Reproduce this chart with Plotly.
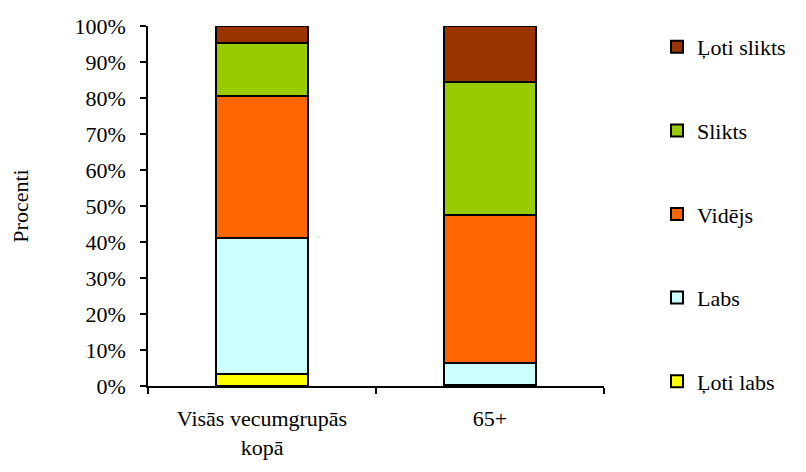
import plotly.graph_objects as go

categories = ["Visās vecumgrupās<br>kopā", "65+"]
series_names = ["Ļoti labs", "Labs", "Vidējs", "Slikts", "Ļoti slikts"]
values_loti_labs = [3.2, 0.4]
values_labs = [38.0, 5.9]
values_videjs = [39.4, 41.2]
values_slikts = [14.8, 37.0]
values_loti_slikts = [4.6, 15.5]
colors = ["#FFFF00", "#CCFFFF", "#FF6600", "#99CC00", "#993300"]
y_ticks = [0, 10, 20, 30, 40, 50, 60, 70, 80, 90, 100]

series_values = [values_loti_labs, values_labs, values_videjs, values_slikts, values_loti_slikts]

font_family = "Liberation Serif"
font_size = 22

fig = go.Figure()
n = len(series_names)
for i, (name, vals, col) in enumerate(zip(series_names, series_values, colors)):
    fig.add_trace(go.Bar(
        x=categories, y=vals, name=name, legendgroup=name,
        legendrank=n - i,
        marker=dict(color=col, line=dict(color="black", width=2)),
        width=0.4,
    ))

fig.update_layout(
    barmode="stack",
    width=806, height=472,
    margin=dict(l=148, r=202, t=26, b=86),
    plot_bgcolor="white", paper_bgcolor="white",
    font=dict(family=font_family, size=font_size, color="black"),
    showlegend=True,
    legend=dict(
        tracegroupgap=52,
        maxheight=1,
        xref="container", yref="container",
        x=657 / 806, y=1 - 26 / 472, xanchor="left", yanchor="top",
        itemwidth=30,
        font=dict(family=font_family, size=font_size, color="black"),
        bgcolor="rgba(0,0,0,0)",
    ),
    xaxis=dict(
        showline=True, linecolor="black", linewidth=1.5,
        ticks="outside", tickson="boundaries", ticklen=6,
        tickwidth=1.5, tickcolor="black", showgrid=False,
        ticklabelstandoff=12,
        tickfont=dict(family=font_family, size=font_size),
    ),
    yaxis=dict(
        range=[0, 100], tickvals=y_ticks,
        ticktext=[f"{t}%" for t in y_ticks],
        showline=True, linecolor="black", linewidth=1.5,
        ticks="outside", ticklen=6, tickwidth=1.5, tickcolor="black",
        ticklabelstandoff=10,
        tickfont=dict(family=font_family, size=font_size),
        showgrid=False, zeroline=False,
        title=dict(text="Procenti", font=dict(family=font_family, size=font_size), standoff=40),
    ),
)

fig.write_html("out.html")
